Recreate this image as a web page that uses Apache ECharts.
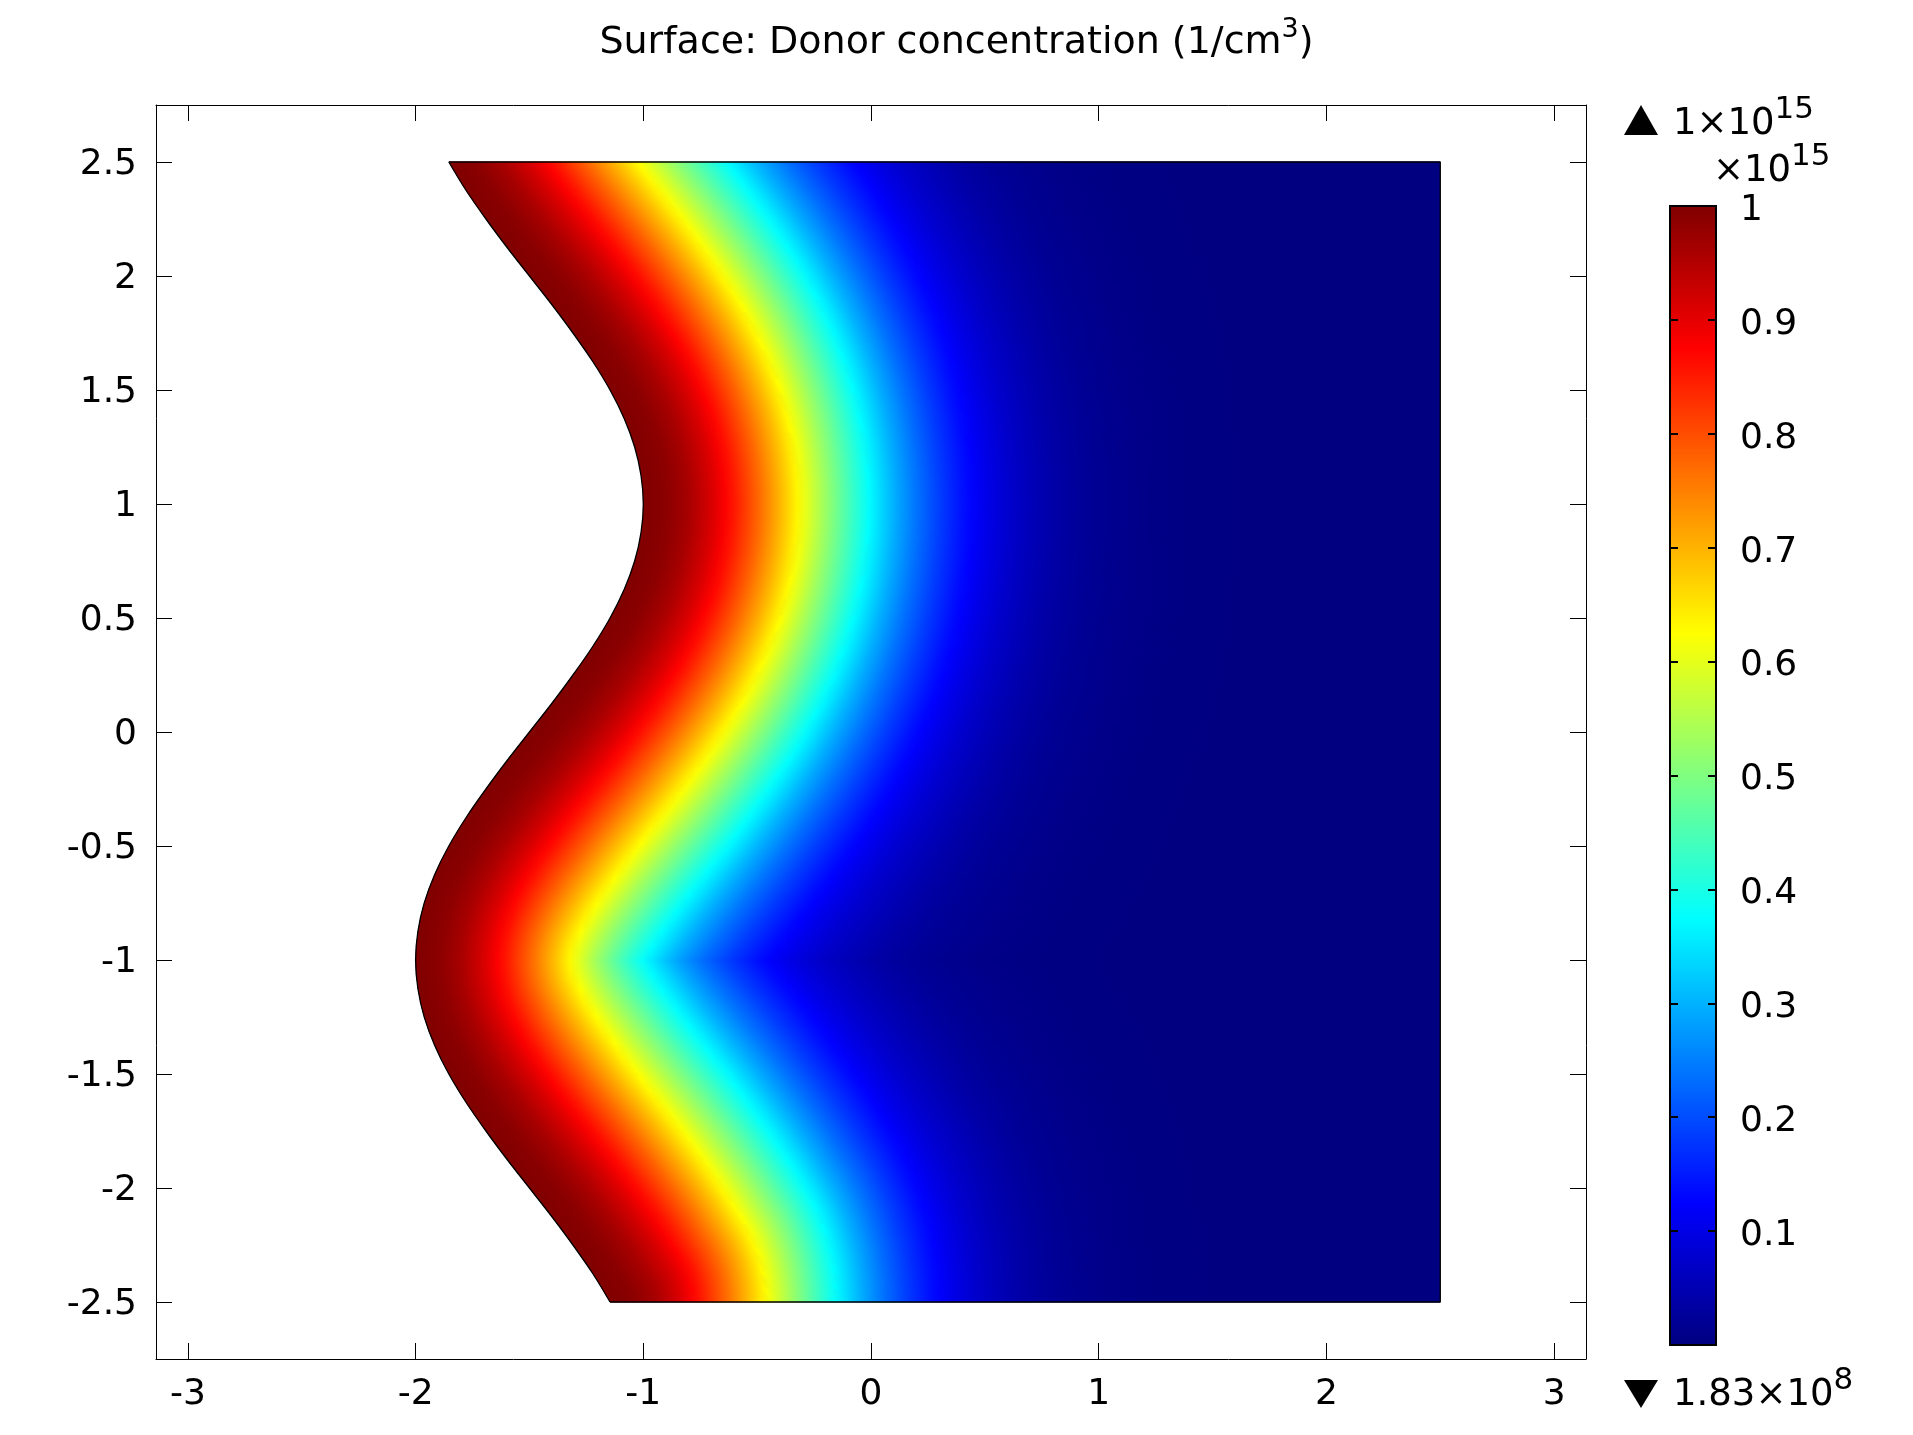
<!DOCTYPE html>
<html>
<head>
<meta charset="utf-8">
<script src="https://cdn.jsdelivr.net/npm/echarts@6/dist/echarts.min.js"></script>
<style>
html,body{margin:0;padding:0;background:#ffffff;}
#chart{width:1913px;height:1435px;}
</style>
</head>
<body>
<div id="chart"></div>
<script>
// ---------------- data ----------------
const FONT = 'DejaVu Sans';
const titleText = 'Surface: Donor concentration (1/cm{sup|3})';
const maxLabel = '1×10{sup|15}';
const scaleLabel = '×10{sup|15}';
const minLabel = '1.83×10{sup|8}';

const xTickLabels = [-3, -2, -1, 0, 1, 2, 3];
const yTickLabels = [-2.5, -2, -1.5, -1, -0.5, 0, 0.5, 1, 1.5, 2, 2.5];
const cbTickLabels = [0.1, 0.2, 0.3, 0.4, 0.5, 0.6, 0.7, 0.8, 0.9, 1];

// left (doped) boundary of the domain: x position at each y
const boundaryY = [-2.5, -2.375, -2.25, -2.125, -2, -1.875, -1.75, -1.625, -1.5, -1.375, -1.25, -1.125, -1,
  -0.875, -0.75, -0.625, -0.5, -0.375, -0.25, -0.125, 0, 0.125, 0.25, 0.375, 0.5, 0.625, 0.75, 0.875, 1,
  1.125, 1.25, 1.375, 1.5, 1.625, 1.75, 1.875, 2, 2.125, 2.25, 2.375, 2.5];
const boundaryX = [-1.146, -1.222, -1.309, -1.402, -1.5, -1.598, -1.691, -1.778, -1.854, -1.916, -1.962, -1.990, -2.0,
  -1.990, -1.962, -1.916, -1.854, -1.778, -1.691, -1.598, -1.5, -1.402, -1.309, -1.222, -1.146, -1.084, -1.038, -1.010, -1.0,
  -1.010, -1.038, -1.084, -1.146, -1.222, -1.309, -1.402, -1.5, -1.598, -1.691, -1.778, -1.854];
const domainRight = 2.5, domainTop = 2.5, domainBottom = -2.5;

// donor concentration (×1e15 1/cm3) versus distance from the left boundary
const profileD = [0, 0.1, 0.2, 0.3, 0.4, 0.5, 0.6, 0.7, 0.8, 0.9, 1.0, 1.1, 1.2, 1.3, 1.4, 1.5, 1.6, 1.7, 1.8, 1.9, 2.0, 2.2, 2.4, 2.7, 3.0, 4.0];
const profileN = [1.000, 0.990, 0.961, 0.914, 0.852, 0.779, 0.698, 0.613, 0.527, 0.445, 0.368, 0.298, 0.237, 0.185, 0.141, 0.105,
  0.077, 0.056, 0.039, 0.027, 0.018, 0.008, 0.003, 0.0007, 0.0001, 0.0000002];

// colour table (jet)
const jetStops = [[0, '#000080'], [0.125, '#0000ff'], [0.375, '#00ffff'], [0.625, '#ffff00'], [0.875, '#ff0000'], [1, '#800000']];

// ---------------- helpers ----------------
const SMOOTH = 1 / 3;
function hexRgb(h) { return [parseInt(h.substr(1, 2), 16), parseInt(h.substr(3, 2), 16), parseInt(h.substr(5, 2), 16)]; }
const jetRgb = jetStops.map(s => [s[0], hexRgb(s[1])]);
function jet(v) {
  v = Math.max(0, Math.min(1, v));
  for (let i = 1; i < jetRgb.length; i++) {
    if (v <= jetRgb[i][0]) {
      const a = jetRgb[i - 1], b = jetRgb[i];
      const t = (v - a[0]) / (b[0] - a[0]);
      const c = a[1].map((ch, k) => Math.round(ch + (b[1][k] - ch) * t));
      return 'rgb(' + c.join(',') + ')';
    }
  }
  return jetStops[jetStops.length - 1][1];
}
function interp(xs, ys, x) {
  if (x <= xs[0]) return ys[0];
  for (let i = 1; i < xs.length; i++) {
    if (x <= xs[i]) { const t = (x - xs[i - 1]) / (xs[i] - xs[i - 1]); return ys[i - 1] + (ys[i] - ys[i - 1]) * t; }
  }
  return ys[ys.length - 1];
}
// same cubic the smoothed outline line uses (bezier through the boundary points)
function boundaryAt(y) {
  const n = boundaryY.length - 1;
  let i = 0;
  while (i < n - 1 && y > boundaryY[i + 1]) i++;
  const t = Math.max(0, Math.min(1, (y - boundaryY[i]) / (boundaryY[i + 1] - boundaryY[i])));
  const p0 = boundaryX[i], p1 = boundaryX[i + 1];
  const c1 = i === 0 ? p0 + (p1 - p0) * SMOOTH : p0 + (p1 - boundaryX[i - 1]) * SMOOTH * 0.5;
  const c2 = i + 1 === n ? p1 - (p1 - p0) * SMOOTH : p1 - (boundaryX[i + 2] - p0) * SMOOTH * 0.5;
  const u = 1 - t;
  return u * u * u * p0 + 3 * u * u * t * c1 + 3 * u * t * t * c2 + t * t * t * p1;
}
function profileAt(d) { return interp(profileD, profileN, d); }
// dense copy of the boundary for distance look-ups
const denseB = [];
for (let k = 0; k <= 800; k++) { const y = domainBottom + (domainTop - domainBottom) * k / 800; denseB.push([boundaryAt(y), y]); }
function distToBoundary(x, y) {
  let best = Infinity;
  for (let i = 1; i < denseB.length; i++) {
    const ax = denseB[i - 1][0], ay = denseB[i - 1][1], bx = denseB[i][0], by = denseB[i][1];
    if (Math.abs(ay - y) > 4.5) continue;
    const dx = bx - ax, dy = by - ay;
    let t = ((x - ax) * dx + (y - ay) * dy) / (dx * dx + dy * dy);
    t = Math.max(0, Math.min(1, t));
    const px = ax + t * dx - x, py = ay + t * dy - y;
    const d2 = px * px + py * py;
    if (d2 < best) best = d2;
  }
  return Math.sqrt(best);
}
function tickFormatter(list, digits) {
  return function (v) {
    for (const t of list) if (Math.abs(t - v) < 1e-6) return digits != null && t !== 1 ? t.toFixed(digits) : String(t);
    return '';
  };
}

// ---------------- surface rows ----------------
const ROW = 0.005, SAMPLE = 0.04;
const rows = [];
for (let i = 0; i < Math.round((domainTop - domainBottom) / ROW); i++) rows.push([domainRight, domainBottom + ROW * (i + 0.5)]);

function renderRow(params, api) {
  const yc = api.value(1);
  const yt = yc + ROW / 2, yb = yc - ROW / 2;
  const bxT = boundaryAt(yt), bxB = boundaryAt(yb);
  const x0 = Math.min(bxT, bxB);
  const pT0 = api.coord([bxT, yt]), pT1 = api.coord([domainRight, yt]);
  const pB1 = api.coord([domainRight, yb]), pB0 = api.coord([bxB, yb]);
  const pa = api.coord([x0, yc]), pz = api.coord([domainRight, yc]);
  const n = Math.max(2, Math.ceil((domainRight - x0) / SAMPLE));
  const stops = [];
  for (let i = 0; i <= n; i++) {
    const x = x0 + (domainRight - x0) * i / n;
    stops.push({ offset: i / n, color: jet(profileAt(distToBoundary(x, yc))) });
  }
  return {
    type: 'polygon',
    shape: { points: [[pT0[0], pT0[1] - 0.6], [pT1[0], pT1[1] - 0.6], [pB1[0], pB1[1] + 0.6], [pB0[0], pB0[1] + 0.6]] },
    style: { fill: { type: 'linear', x: pa[0], y: 0, x2: pz[0], y2: 0, global: true, colorStops: stops }, stroke: null }
  };
}

const edges = [[boundaryX[boundaryX.length - 1], domainTop], [domainRight, domainTop], [domainRight, domainBottom], [boundaryX[0], domainBottom]];
const curve = boundaryY.map((y, i) => [boundaryX[i], y]);

// ---------------- chart ----------------
const chart = echarts.init(document.getElementById('chart'), null, { renderer: 'canvas' });

const mainLine = { show: true, onZero: false, lineStyle: { color: '#000', width: 1 } };
const mainTick = { show: true, inside: true, length: 16, lineStyle: { color: '#000', width: 1 } };
const labelStyle = { fontFamily: FONT, fontSize: 36, color: '#000' };
const cbLine = { show: true, onZero: false, lineStyle: { color: '#000', width: 2, cap: 'square' } };
const cbTick = { show: true, inside: true, length: 8, lineStyle: { color: '#000', width: 2 } };
const supRich = { sup: { fontFamily: FONT, fontSize: 31, fill: '#000', padding: [0, 0, 29, 0] } };

const option = {
  animation: false,
  backgroundColor: '#ffffff',
  title: {
    text: titleText,
    left: 'center',
    top: 16,
    padding: 0,
    textStyle: {
      fontFamily: FONT, fontSize: 38, fontWeight: 'normal', color: '#000',
      rich: { sup: { fontFamily: FONT, fontSize: 27, color: '#000', padding: [0, 0, 27, 0] } }
    }
  },
  grid: [
    { left: 156, top: 105, width: 1430, height: 1254, containLabel: false },
    { left: 1670, top: 206, width: 46, height: 1139, containLabel: false }
  ],
  xAxis: [
    { type: 'value', gridIndex: 0, position: 'bottom', min: -3.14, max: 3.14, splitNumber: 6,
      axisLine: mainLine, axisTick: mainTick, splitLine: { show: false },
      axisLabel: Object.assign({ show: true, margin: 18, formatter: tickFormatter(xTickLabels) }, labelStyle) },
    { type: 'value', gridIndex: 0, position: 'top', min: -3.14, max: 3.14, splitNumber: 6,
      axisLine: mainLine, axisTick: mainTick, splitLine: { show: false }, axisLabel: { show: false } },
    { type: 'value', gridIndex: 1, position: 'bottom', min: 0, max: 1, z: 10,
      axisLine: cbLine, axisTick: { show: false }, splitLine: { show: false }, axisLabel: { show: false } },
    { type: 'value', gridIndex: 1, position: 'top', min: 0, max: 1, z: 10,
      axisLine: cbLine, axisTick: { show: false }, splitLine: { show: false }, axisLabel: { show: false } }
  ],
  yAxis: [
    { type: 'value', gridIndex: 0, position: 'left', min: -2.75, max: 2.75, splitNumber: 11,
      axisLine: mainLine, axisTick: mainTick, splitLine: { show: false },
      axisLabel: Object.assign({ show: true, margin: 19, verticalAlign: 'top', lineHeight: 5, formatter: tickFormatter(yTickLabels) }, labelStyle) },
    { type: 'value', gridIndex: 0, position: 'right', min: -2.75, max: 2.75, splitNumber: 11,
      axisLine: mainLine, axisTick: mainTick, splitLine: { show: false }, axisLabel: { show: false } },
    { type: 'value', gridIndex: 1, position: 'right', min: 0, max: 1, interval: 0.1, z: 10,
      axisLine: cbLine, axisTick: cbTick, splitLine: { show: false },
      axisLabel: Object.assign({ show: true, margin: 24, verticalAlign: 'top', lineHeight: 9, formatter: tickFormatter(cbTickLabels, 1) }, labelStyle) },
    { type: 'value', gridIndex: 1, position: 'left', min: 0, max: 1, interval: 0.1, z: 10,
      axisLine: cbLine, axisTick: cbTick, splitLine: { show: false }, axisLabel: { show: false } }
  ],
  series: [
    { type: 'custom', name: 'surface', xAxisIndex: 0, yAxisIndex: 0, data: rows, renderItem: renderRow,
      progressive: 0, silent: true, z: 1 },
    { type: 'line', name: 'edges', xAxisIndex: 0, yAxisIndex: 0, data: edges, symbol: 'none', showSymbol: false,
      lineStyle: { color: '#000', width: 1.3 }, silent: true, z: 5 },
    { type: 'line', name: 'curve', xAxisIndex: 0, yAxisIndex: 0, data: curve, symbol: 'none', showSymbol: false,
      smooth: SMOOTH, lineStyle: { color: '#000', width: 1.3 }, silent: true, z: 5 },
    { type: 'custom', name: 'colorbar', xAxisIndex: 2, yAxisIndex: 2, data: [[0, 0]], silent: true, z: 1,
      renderItem: function (params, api) {
        const p0 = api.coord([0, 1]), p1 = api.coord([1, 0]);
        return {
          type: 'rect',
          shape: { x: p0[0], y: p0[1], width: p1[0] - p0[0], height: p1[1] - p0[1] },
          style: { fill: { type: 'linear', x: 0, y: p1[1], x2: 0, y2: p0[1], global: true,
            colorStops: jetStops.map(s => ({ offset: s[0], color: s[1] })) } }
        };
      } }
  ],
  graphic: [
    { type: 'polygon', shape: { points: [[1624, 135], [1658, 135], [1641, 105]] }, style: { fill: '#000' } },
    { type: 'polygon', shape: { points: [[1624, 1380], [1658, 1380], [1641, 1408]] }, style: { fill: '#000' } },
    { type: 'text', x: 1673, y: 124, style: { text: maxLabel, fontFamily: FONT, fontSize: 37, fill: '#000', verticalAlign: 'middle', rich: supRich } },
    { type: 'text', x: 1713, y: 171, style: { text: scaleLabel, fontFamily: FONT, fontSize: 37, fill: '#000', verticalAlign: 'middle', rich: supRich } },
    { type: 'text', x: 1673, y: 1395, style: { text: minLabel, fontFamily: FONT, fontSize: 37, fill: '#000', verticalAlign: 'middle', rich: supRich } }
  ]
};
chart.setOption(option);
</script>
</body>
</html>
